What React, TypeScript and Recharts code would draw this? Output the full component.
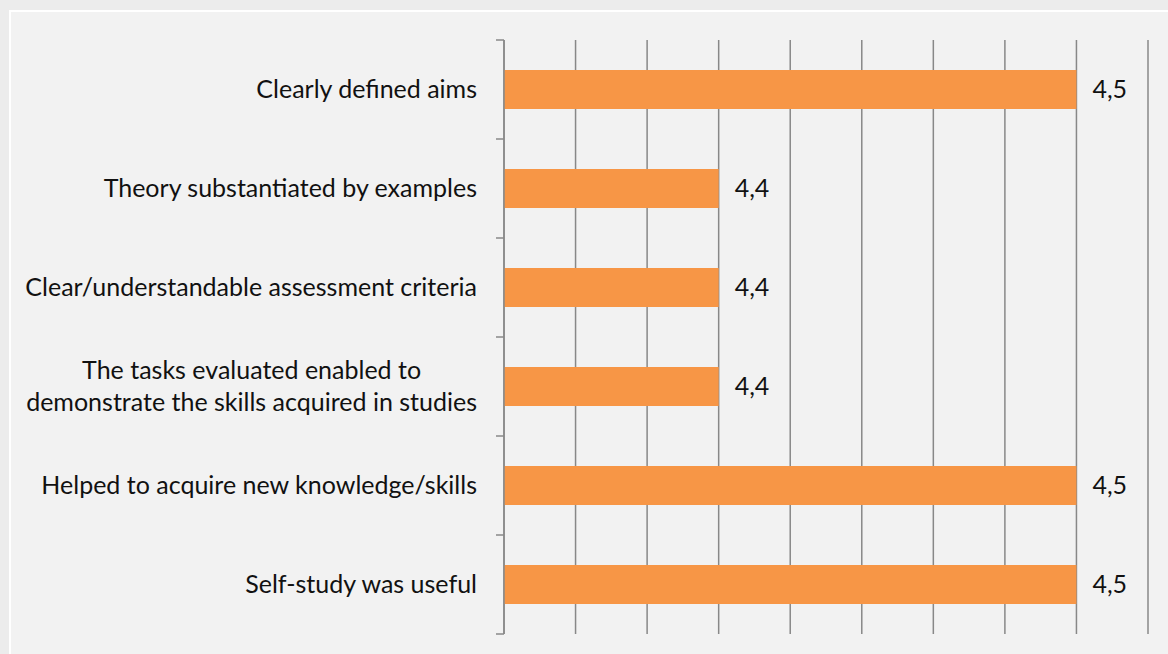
import { Bar, BarChart, CartesianGrid, LabelList, XAxis, YAxis } from 'recharts';

const categories = [
  'Clearly defined aims',
  'Theory substantiated by examples',
  'Clear/understandable assessment criteria',
  'The tasks evaluated enabled to\ndemonstrate the skills acquired in studies',
  'Helped to acquire new knowledge/skills',
  'Self-study was useful',
];
const scores = [4.5, 4.4, 4.4, 4.4, 4.5, 4.5];
const xTicks = [4.34, 4.36, 4.38, 4.4, 4.42, 4.44, 4.46, 4.48, 4.5, 4.52];

const FONT = 'Lato';
const FS = 25;
const GRID = '#888888';
const MARGIN = 27;

const data = categories.map((name, i) => ({ name, score: scores[i] }));

let ctx: CanvasRenderingContext2D | null = null;
function measure(s: string) {
  if (!ctx) ctx = document.createElement('canvas').getContext('2d');
  if (!ctx) return s.length * FS * 0.45;
  ctx.font = `${FS}px ${FONT}`;
  return ctx.measureText(s).width;
}

const EmptyTick = () => <g />;

// label plus the small tick marks that sit on the band edges
function CategoryTick(props: any) {
  const { x, y, payload, index, visibleTicksCount } = props;
  const half = payload.offset ?? 0;
  const ax = x + MARGIN;
  const lines: string[] = String(payload.value).split('\n');
  const marks = (
    <>
      <line x1={ax - 8} x2={ax} y1={y - half} y2={y - half} stroke={GRID} strokeWidth={1.5} />
      {index === visibleTicksCount - 1 && (
        <line x1={ax - 8} x2={ax} y1={y + half} y2={y + half} stroke={GRID} strokeWidth={1.5} />
      )}
    </>
  );
  if (lines.length === 1) {
    return (
      <g>
        {marks}
        <text x={x} y={y} dy="0.35em" textAnchor="end" fontSize={FS} fontFamily={FONT} fill="#111">
          {lines[0]}
        </text>
      </g>
    );
  }
  const w = Math.max(...lines.map(measure));
  const lh = 32;
  return (
    <g>
      {marks}
      <text x={x - w / 2} y={y} textAnchor="middle" fontSize={FS} fontFamily={FONT} fill="#111">
        {lines.map((l, i) => (
          <tspan key={i} x={x - w / 2} y={y + (i - (lines.length - 1) / 2) * lh} dy="0.35em">
            {l}
          </tspan>
        ))}
      </text>
    </g>
  );
}

export default function App() {
  return (
    <div style={{ position: 'absolute', left: 0, top: 0, width: 1168, height: 654, background: '#ececec', overflow: 'hidden' }}>
      <div
        style={{
          position: 'absolute',
          left: 9,
          top: 10,
          width: 1200,
          height: 700,
          background: '#f2f2f2',
          border: '2px solid #ffffff',
        }}
      />
      <div style={{ position: 'absolute', left: 0, top: 0 }}>
        <BarChart
          width={1168}
          height={654}
          data={data}
          layout="vertical"
          margin={{ top: 40, right: 20, bottom: 20, left: 9 }}
        >
          <CartesianGrid horizontal={false} vertical stroke={GRID} strokeWidth={1.5} />
          <XAxis
            type="number"
            domain={[4.34, 4.52]}
            ticks={xTicks}
            interval={0}
            allowDataOverflow
            height={0}
            tick={<EmptyTick />}
            axisLine={false}
            tickLine={false}
          />
          <YAxis
            type="category"
            dataKey="name"
            width={495}
            axisLine={{ stroke: GRID, strokeWidth: 1.5 }}
            tickLine={false}
            tickSize={0}
            tickMargin={MARGIN}
            interval={0}
            tick={<CategoryTick />}
          />
          <Bar dataKey="score" fill="#f79646" barSize={39} isAnimationActive={false}>
            <LabelList
              dataKey="score"
              position="right"
              offset={16}
              fill="#111"
              fontSize={FS}
              fontFamily={FONT}
              formatter={(v: any) => String(v).replace('.', ',')}
            />
          </Bar>
        </BarChart>
      </div>
    </div>
  );
}
